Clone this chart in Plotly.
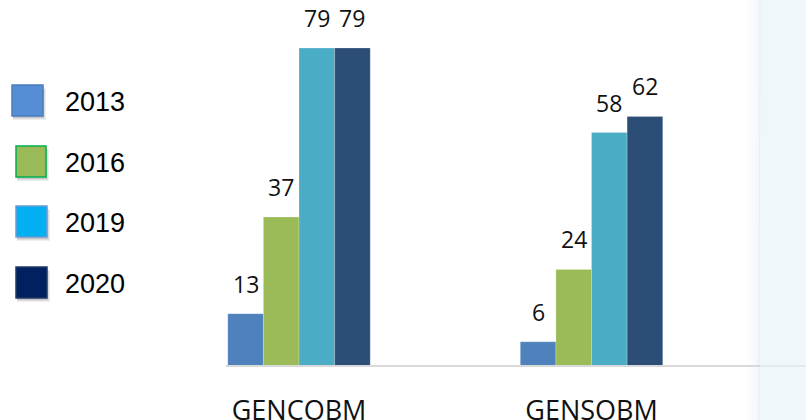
import plotly.graph_objects as go

# Chart data
categories = ["GENCOBM", "GENSOBM"]
years = ["2013", "2016", "2019", "2020"]
values_2013 = [13, 6]
values_2016 = [37, 24]
values_2019 = [79, 58]
values_2020 = [79, 62]
series_values = [values_2013, values_2016, values_2019, values_2020]

bar_colors = ["#4F81BD", "#9BBB59", "#4BACC6", "#2C4D75"]
key_fill = ["#558ED5", "#9BBB59", "#00B0F0", "#002060"]
key_line = ["#4A7EBB", "#00B050", "#6A9BD8", "#1F3864"]

W, H = 806, 420
ML, MR, MT, MB = 226, 47, 0, 54
PW, PH = W - ML - MR, H - MT - MB


def px_x(p):
    return (p - ML) / PW


def px_y(p):
    return (H - MB - p) / PH


fig = go.Figure()
for yr, vals, col in zip(years, series_values, bar_colors):
    fig.add_trace(go.Bar(
        x=categories, y=vals, name=yr,
        marker=dict(color=col, line=dict(width=0.6, color="rgba(255,255,255,0.35)")),
        showlegend=False,
    ))

bar_px = 35.6
annotations = []
for i, vals in enumerate(series_values):
    for cat, v in zip(categories, vals):
        annotations.append(dict(
            x=cat, y=v, xref="x", yref="y", text=str(v), showarrow=False,
            xanchor="center", yanchor="bottom", xshift=(i - 1.5) * bar_px, yshift=12,
            font=dict(family="Open Sans", size=23, color="#111111"),
        ))

# Key: coloured squares with a soft drop shadow, year labels beside them
key_boxes = [(12, 85, 43, 116), (16, 146, 46, 177), (16, 206, 47, 237), (16, 267, 47, 298)]
shapes = []
# right-hand panel
for k in range(14):
    x0 = 745 + k
    shapes.append(dict(type="rect", xref="paper", yref="paper",
                       x0=px_x(x0), x1=px_x(x0 + 1), y0=px_y(H), y1=px_y(0),
                       fillcolor="rgba(232,243,248,%.3f)" % (0.05 + 0.04 * k),
                       line=dict(width=0), layer="below"))
shapes.append(dict(type="rect", xref="paper", yref="paper",
                   x0=px_x(759), x1=px_x(W), y0=px_y(H), y1=px_y(0),
                   fillcolor="#EFF7FA", line=dict(width=0), layer="below"))
shapes.append(dict(type="line", xref="paper", yref="paper",
                   x0=px_x(759), x1=px_x(760), y0=px_y(H), y1=px_y(0),
                   line=dict(width=1, color="#E9EEF5"), layer="below"))
# baseline
shapes.append(dict(type="line", xref="paper", yref="paper",
                   x0=px_x(226), x1=px_x(760), y0=px_y(366), y1=px_y(366),
                   line=dict(width=2, color="#D9D9D9")))
shapes.append(dict(type="line", xref="paper", yref="paper",
                   x0=px_x(760), x1=px_x(W), y0=px_y(366), y1=px_y(366),
                   line=dict(width=2, color="#E4EAEE")))

for (x0, y0, x1, y1), yr, fc, lc in zip(key_boxes, years, key_fill, key_line):
    for s, a in [(4, 0.10), (3, 0.12), (2, 0.15)]:
        shapes.append(dict(type="rect", xref="paper", yref="paper",
                           x0=px_x(x0 + 1), x1=px_x(x1 + s - 1), y0=px_y(y0 + s), y1=px_y(y1 + s),
                           fillcolor="rgba(90,90,90,%.2f)" % a, line=dict(width=0)))
    shapes.append(dict(type="rect", xref="paper", yref="paper",
                       x0=px_x(x0), x1=px_x(x1), y0=px_y(y0), y1=px_y(y1),
                       fillcolor=fc, line=dict(width=1.5, color=lc)))
    annotations.append(dict(
        x=px_x(63), y=px_y((y0 + y1) / 2 + 1), xref="paper", yref="paper",
        text=yr, showarrow=False, xanchor="left", yanchor="middle",
        font=dict(family="Liberation Sans, Arial", size=27, color="#000000"),
    ))

fig.update_layout(
    width=W, height=H,
    margin=dict(l=ML, r=MR, t=MT, b=MB, autoexpand=False),
    paper_bgcolor="white", plot_bgcolor="rgba(0,0,0,0)",
    barmode="group", bargap=0.513, bargroupgap=0,
    xaxis=dict(range=[-0.2496, 1.5726], showgrid=False, zeroline=False, showline=False,
               ticks="", ticklabelstandoff=26, automargin=False,
               tickfont=dict(family="Open Sans", size=27, color="#111111")),
    yaxis=dict(range=[0, PH / 4.025], visible=False, showgrid=False, zeroline=False,
               automargin=False),
    shapes=shapes,
    annotations=annotations,
)

fig.write_html("out.html")
